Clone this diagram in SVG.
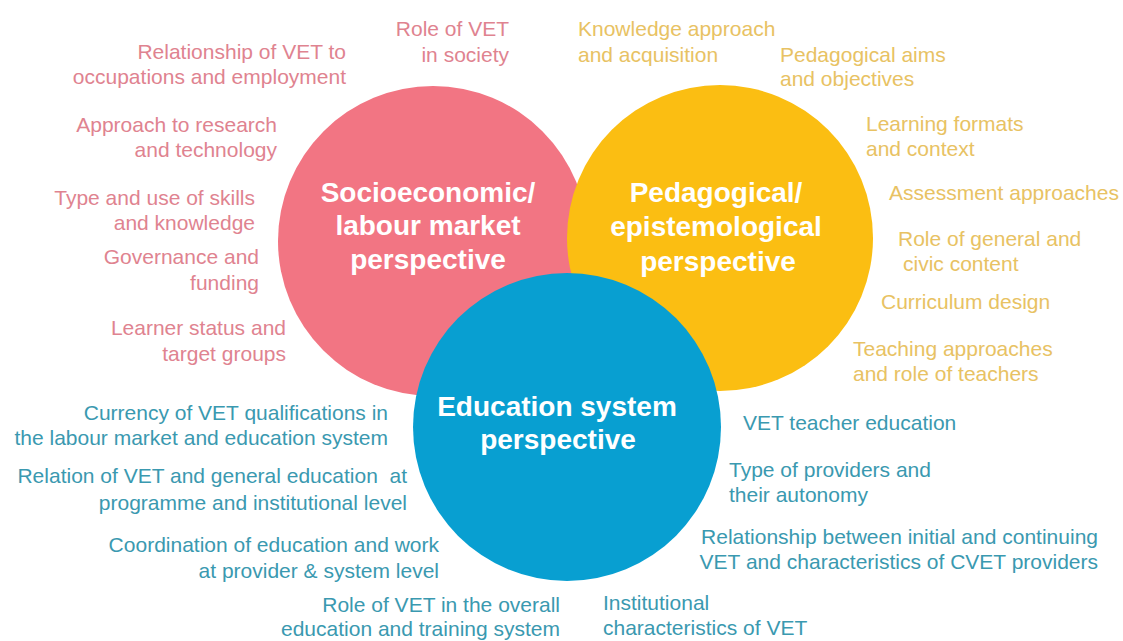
<svg xmlns="http://www.w3.org/2000/svg" width="1123" height="641" viewBox="0 0 1123 641">
<style>
text{font-family:"Liberation Sans",Arial,sans-serif}
.t{font-size:21px}
.r{text-anchor:end}
.c{text-anchor:middle}
.pk{fill:#df8390}
.yl{fill:#e8c263}
.bl{fill:#3a99b0}
.h{font-size:28px;font-weight:bold;fill:#fff;text-anchor:middle}
</style>
<rect width="1123" height="641" fill="#ffffff"/>
<g id="socio">
<circle cx="433" cy="241" r="155" fill="#f27583"/>
</g>
<g id="peda">
<circle cx="720" cy="238" r="153" fill="#fbbe12"/>
</g>
<g id="edu">
<circle cx="567" cy="427" r="154" fill="#089fd1"/>
</g>
<g id="titles">
<text class="h" x="428" y="202">Socioeconomic/</text>
<text class="h" x="428" y="235">labour market</text>
<text class="h" x="428" y="269">perspective</text>
<text class="h" x="716" y="202">Pedagogical/</text>
<text class="h" x="716" y="236">epistemological</text>
<text class="h" x="718" y="271">perspective</text>
<text class="h" x="557" y="416">Education system</text>
<text class="h" x="558" y="449">perspective</text>
</g>
<g id="socio-items" class="t pk">
<text class="r" x="509" y="36">Role of VET</text>
<text class="r" x="509" y="62">in society</text>
<text class="r" x="346" y="59">Relationship of VET to</text>
<text class="r" x="346" y="84">occupations and employment</text>
<text class="r" x="277" y="132">Approach to research</text>
<text class="r" x="277" y="157">and technology</text>
<text class="r" x="255" y="205">Type and use of skills</text>
<text class="r" x="255" y="230">and knowledge</text>
<text class="r" x="259" y="264">Governance and</text>
<text class="r" x="259" y="290">funding</text>
<text class="r" x="286" y="335">Learner status and</text>
<text class="r" x="286" y="361">target groups</text>
</g>
<g id="peda-items" class="t yl">
<text x="578" y="36">Knowledge approach</text>
<text x="578" y="62">and acquisition</text>
<text x="780" y="62">Pedagogical aims</text>
<text x="780" y="86">and objectives</text>
<text x="866" y="131">Learning formats</text>
<text x="866" y="156">and context</text>
<text x="889" y="200">Assessment approaches</text>
<text x="898" y="246">Role of general and</text>
<text x="903" y="271">civic content</text>
<text x="881" y="309">Curriculum design</text>
<text x="853" y="356">Teaching approaches</text>
<text x="853" y="381">and role of teachers</text>
</g>
<g id="edu-items" class="t bl">
<text class="r" x="388" y="420">Currency of VET qualifications in</text>
<text class="r" x="388" y="445">the labour market and education system</text>
<text class="r" x="407" y="483">Relation of VET and general education &#160;at</text>
<text class="r" x="407" y="510">programme and institutional level</text>
<text class="r" x="439" y="552">Coordination of education and work</text>
<text class="r" x="439" y="578">at provider &amp; system level</text>
<text class="r" x="560" y="612">Role of VET in the overall</text>
<text class="r" x="560" y="636">education and training system</text>
<text x="743" y="430">VET teacher education</text>
<text x="729" y="477">Type of providers and</text>
<text x="729" y="502">their autonomy</text>
<text class="r" x="1098" y="544">Relationship between initial and continuing</text>
<text class="r" x="1098" y="569">VET and characteristics of CVET providers</text>
<text x="603" y="610">Institutional</text>
<text x="603" y="635">characteristics of VET</text>
</g>
</svg>
